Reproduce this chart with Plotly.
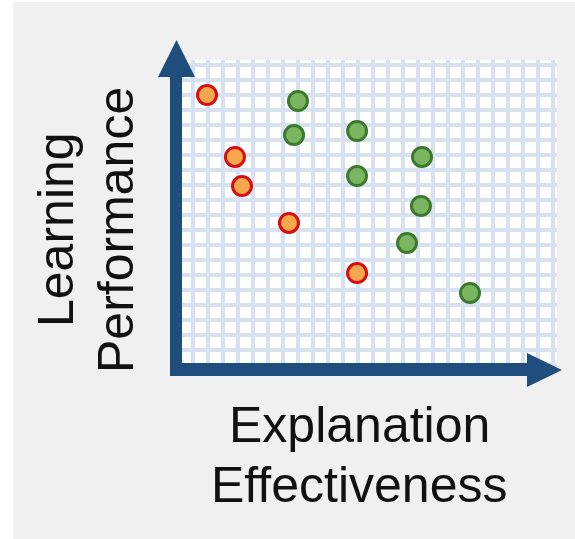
import plotly.graph_objects as go

# ---- data (abstract grid units) ----
red_effectiveness = [1.97, 3.83, 4.30, 7.43, 11.97]
red_performance = [18.0, 13.87, 11.93, 9.47, 6.13]

green_effectiveness = [8.03, 7.77, 11.97, 11.97, 16.30, 16.23, 15.30, 19.50]
green_performance = [17.6, 15.33, 15.6, 12.6, 13.87, 10.6, 8.13, 4.8]

x_title_lines = ["Explanation", "Effectiveness"]
y_title_lines = ["Learning", "Performance"]

# ---- layout geometry ----
W, H = 575, 539
L, R, T, B = 170, 18, 60, 164
PW, PH = W - L - R, H - T - B


def px(p):
    return (p - L) / PW


def py(p):
    return (H - B - p) / PH


fig = go.Figure()

fig.add_trace(go.Scatter(
    x=red_effectiveness, y=red_performance, mode="markers",
    marker=dict(size=19, color="#f6a74b", line=dict(color="#d90d0d", width=3)),
    showlegend=False, hoverinfo="skip"))
fig.add_trace(go.Scatter(
    x=green_effectiveness, y=green_performance, mode="markers",
    marker=dict(size=19, color="#7bb562", line=dict(color="#3b7a2b", width=3)),
    showlegend=False, hoverinfo="skip"))

# axis arrows (single polygon in pixel space -> paper)
pts = [(170, 376), (170, 77), (158, 77), (176.5, 40), (195, 77), (182, 77),
       (182, 363), (527, 363), (527, 353), (562, 370), (527, 387), (527, 376)]
path = "M " + " L ".join(f"{px(a):.5f},{py(b):.5f}" for a, b in pts) + " Z"

shapes = [
    dict(type="rect", xref="paper", yref="paper", x0=px(0), x1=px(13), y0=py(H), y1=py(0),
         fillcolor="white", line=dict(width=0), layer="below"),
    dict(type="rect", xref="paper", yref="paper", x0=px(0), x1=px(W), y0=py(2), y1=py(0),
         fillcolor="white", line=dict(width=0), layer="below"),
    dict(type="path", xref="paper", yref="paper", path=path,
         fillcolor="#1f4e7d", line=dict(width=0), layer="above"),
]

font = dict(family="Liberation Sans, Arial, sans-serif", size=50, color="#111111")
annotations = [
    dict(text=x_title_lines[0], xref="paper", yref="paper", x=px(359), y=py(425),
         xanchor="center", yanchor="middle", showarrow=False, font=font),
    dict(text=x_title_lines[1], xref="paper", yref="paper", x=px(359), y=py(485),
         xanchor="center", yanchor="middle", showarrow=False, font=font),
    dict(text=y_title_lines[0], xref="paper", yref="paper", x=px(56), y=py(229),
         xanchor="center", yanchor="middle", textangle=-90, showarrow=False, font=font),
    dict(text=y_title_lines[1], xref="paper", yref="paper", x=px(116), y=py(230),
         xanchor="center", yanchor="middle", textangle=-90, showarrow=False, font=font),
]

grid = dict(showgrid=True, gridcolor="#d8e1f2", gridwidth=4, dtick=1, tick0=0,
            showticklabels=False, ticks="", zeroline=False, showline=False, fixedrange=True)

fig.update_layout(
    width=W, height=H, autosize=False,
    margin=dict(l=L, r=R, t=T, b=B, pad=0),
    paper_bgcolor="#f0f0f0", plot_bgcolor="white",
    xaxis=dict(range=[-0.5, 25.3], **grid),
    yaxis=dict(range=[-0.667, 20.333], **grid),
    shapes=shapes, annotations=annotations,
)

fig.write_html(
    "out.html",
    config={"displayModeBar": False},
    post_script="document.body.style.margin='0px';document.body.style.overflow='hidden';",
)
